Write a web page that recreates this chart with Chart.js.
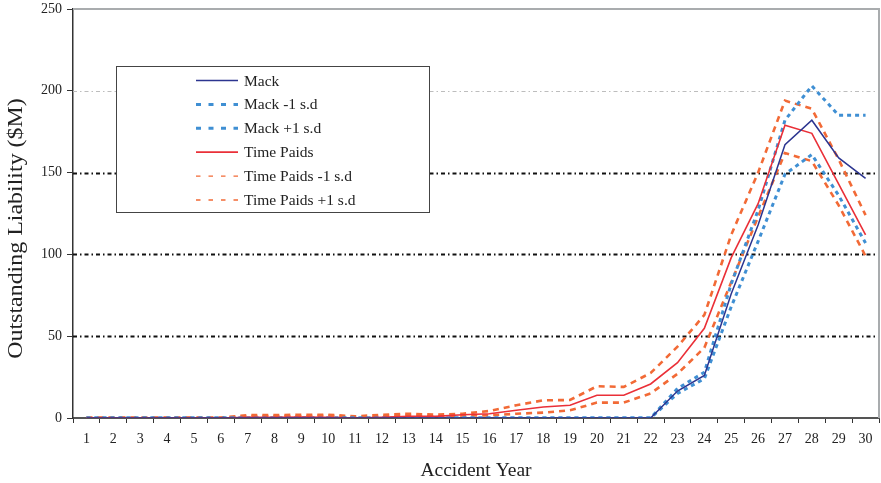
<!DOCTYPE html>
<html>
<head>
<meta charset="utf-8">
<script src="https://cdn.jsdelivr.net/npm/chart.js@4/dist/chart.umd.min.js"></script>
<style>
  html, body { margin: 0; padding: 0; background: #fff; }
  canvas { display: block; }
</style>
</head>
<body>
<canvas id="chart" width="881" height="483"></canvas>
<script>
// Accident years on the horizontal axis
const accidentYears = ['1','2','3','4','5','6','7','8','9','10','11','12','13','14','15',
                       '16','17','18','19','20','21','22','23','24','25','26','27','28','29','30'];

// Outstanding liability estimates ($M)
const mack =          [0,0,0,0,0,0,0,0,0,0,0,0,0,0,0,0,0,0,0,0,0,0, 16.5, 26, 76, 118, 167, 182, 159, 146.5];
const mackMinus1sd =  [0,0,0,0,0,0,0,0,0,0,0,0,0,0,0,0,0,0,0,0,0,0, 15, 24, 68, 108, 149, 161, 136, 107];
const mackPlus1sd =   [0,0,0,0,0,0,0,0,0,0,0,0,0,0,0,0,0,0,0,0,0,0, 18, 28, 82, 127, 182, 203, 185, 185];
const timePaids =     [0,0,0,0,0,0, 0.5, 0.5, 0.6, 0.5, 0, 0.5, 1, 1, 2, 2.6, 4.7, 6.7, 7.8, 13.9, 13.9, 20.8, 33.8, 54.8, 98, 131, 179, 174, 143, 112];
const timePaidsMinus1sd = [0,0,0,0,0,0, 1, 1, 1, 1.5, 0, 1, 1.5, 1, 1.5, 1.6, 2.6, 3.3, 4.7, 9.4, 9.4, 15, 27, 43, 83, 123, 162, 157, 130, 99];
const timePaidsPlus1sd =  [0.3,0.3,0.3,0.3,0.3,0.3, 1.8, 1.8, 2, 2, 1, 2, 2.6, 2, 2.6, 4.3, 7.8, 10.8, 11, 19.4, 19, 27.5, 43.6, 63, 112, 150, 194, 189, 158, 124];

// Value axis ticks
const yTickValues = [0, 50, 100, 150, 200, 250];
const yAxisTitle = 'Outstanding Liability ($M)';

const NAVY = '#2c3590';
const BLUE = '#3f8fd3';
const RED = '#ea3038';
const ORANGE = '#f26a36';
const SERIF = '"Liberation Serif", "Times New Roman", serif';

const seriesStyles = [
  { label: 'Mack',                data: mack,              color: NAVY,   width: 1.5, dash: [],     order: 0, legendWidth: 1.4, legendDash: [] },
  { label: 'Mack -1 s.d',         data: mackMinus1sd,      color: BLUE,   width: 3,   dash: [4, 4], order: 1, legendWidth: 3,   legendDash: [5, 7.5] },
  { label: 'Mack +1 s.d',         data: mackPlus1sd,       color: BLUE,   width: 3,   dash: [4, 4], order: 1, legendWidth: 3,   legendDash: [5, 7.5] },
  { label: 'Time Paids',          data: timePaids,         color: RED,    width: 1.6, dash: [],     order: 0, legendWidth: 1.8, legendDash: [] },
  { label: 'Time Paids -1 s.d',   data: timePaidsMinus1sd, color: ORANGE, width: 2.6, dash: [6, 5], order: 1, legendWidth: 1.4, legendDash: [4.5, 8] },
  { label: 'Time Paids +1 s.d',   data: timePaidsPlus1sd,  color: ORANGE, width: 2.6, dash: [6, 5], order: 1, legendWidth: 1.4, legendDash: [4.5, 8] }
];

// Dash-dot horizontal reference lines and the grey frame on top/right
const gridPlugin = {
  id: 'dashDotGrid',
  beforeDatasetsDraw(chart) {
    const { ctx, chartArea: a, scales: { y } } = chart;
    ctx.save();
    yTickValues.forEach(v => {
      if (v === 0 || v === 250) return;
      const py = Math.round(y.getPixelForValue(v)) + 0.5;
      ctx.beginPath();
      if (v === 200) {
        ctx.strokeStyle = '#bdbdbd';
        ctx.lineWidth = 1;
      } else {
        ctx.strokeStyle = '#111';
        ctx.lineWidth = 2;
      }
      ctx.setLineDash([4, 3, 1.5, 3]);
      ctx.moveTo(a.left, py);
      ctx.lineTo(a.right, py);
      ctx.stroke();
    });
    ctx.setLineDash([]);
    ctx.strokeStyle = '#a9acae';
    ctx.lineWidth = 2;
    ctx.beginPath();
    ctx.moveTo(a.left, a.top);
    ctx.lineTo(a.right, a.top);
    ctx.lineTo(a.right, a.bottom);
    ctx.stroke();
    ctx.restore();
  }
};

// Vertical axis title, drawn slightly stretched along its length
const yTitlePlugin = {
  id: 'yTitle',
  afterDraw(chart) {
    const { ctx, chartArea: a } = chart;
    ctx.save();
    ctx.translate(16, (a.top + a.bottom) / 2 + 15);
    ctx.rotate(-Math.PI / 2);
    ctx.scale(1.14, 1);
    ctx.font = '21px ' + SERIF;
    ctx.fillStyle = '#222';
    ctx.textAlign = 'center';
    ctx.textBaseline = 'middle';
    ctx.fillText(yAxisTitle, 0, 0);
    ctx.restore();
  }
};

// Boxed legend inside the plot area
const boxLegendPlugin = {
  id: 'boxLegend',
  afterDatasetsDraw(chart) {
    const { ctx } = chart;
    const box = { x: 116.5, y: 66.5, w: 313, h: 146 };
    ctx.save();
    ctx.fillStyle = '#fff';
    ctx.fillRect(box.x, box.y, box.w, box.h);
    ctx.strokeStyle = '#444';
    ctx.lineWidth = 1;
    ctx.strokeRect(box.x, box.y, box.w, box.h);
    ctx.font = '15.5px ' + SERIF;
    ctx.textBaseline = 'middle';
    ctx.textAlign = 'left';
    seriesStyles.forEach((s, i) => {
      const cy = 80.5 + i * 23.9;
      ctx.beginPath();
      ctx.strokeStyle = s.color;
      ctx.lineWidth = s.legendWidth;
      ctx.setLineDash(s.legendDash);
      ctx.moveTo(196, cy);
      ctx.lineTo(238, cy);
      ctx.stroke();
      ctx.setLineDash([]);
      ctx.fillStyle = '#222';
      ctx.fillText(s.label, 244, cy + 1);
    });
    ctx.restore();
  }
};

new Chart(document.getElementById('chart'), {
  type: 'line',
  data: {
    labels: accidentYears,
    datasets: seriesStyles.map(s => ({
      label: s.label,
      data: s.data,
      borderColor: s.color,
      backgroundColor: s.color,
      borderWidth: s.width,
      borderDash: s.dash,
      borderCapStyle: 'butt',
      borderJoinStyle: 'miter',
      pointRadius: 0,
      pointHoverRadius: 0,
      tension: 0,
      fill: false,
      order: s.order
    }))
  },
  options: {
    responsive: false,
    animation: false,
    devicePixelRatio: 1,
    layout: { padding: { top: 9, right: 2, left: 0, bottom: 0 } },
    plugins: {
      legend: { display: false },
      tooltip: { enabled: false }
    },
    scales: {
      x: {
        offset: true,
        grid: { offset: true, drawOnChartArea: false, drawTicks: true, tickLength: 5, tickColor: '#333', tickWidth: 1 },
        border: { color: '#555', width: 2 },
        ticks: { color: '#222', font: { family: SERIF, size: 14 }, padding: 8, maxRotation: 0, autoSkip: false },
        title: { display: true, text: 'Accident Year', color: '#222', font: { family: SERIF, size: 19.5 }, padding: { top: 0, bottom: 0 } },
        afterFit(scale) { scale.height = 65; scale.paddingLeft = 0; scale.paddingRight = 0; }
      },
      y: {
        min: 0,
        max: 250,
        afterBuildTicks(scale) { scale.ticks = yTickValues.map(v => ({ value: v })); },
        grid: { drawOnChartArea: false, drawTicks: true, tickLength: 6, tickColor: '#333', tickWidth: 1 },
        border: { color: '#333', width: 1.5 },
        ticks: { color: '#222', font: { family: SERIF, size: 14 }, padding: 5 },
        title: { display: false },
        afterFit(scale) { scale.width = 73; scale.paddingTop = 0; scale.paddingBottom = 0; }
      }
    }
  },
  plugins: [gridPlugin, boxLegendPlugin, yTitlePlugin]
});
</script>
</body>
</html>
